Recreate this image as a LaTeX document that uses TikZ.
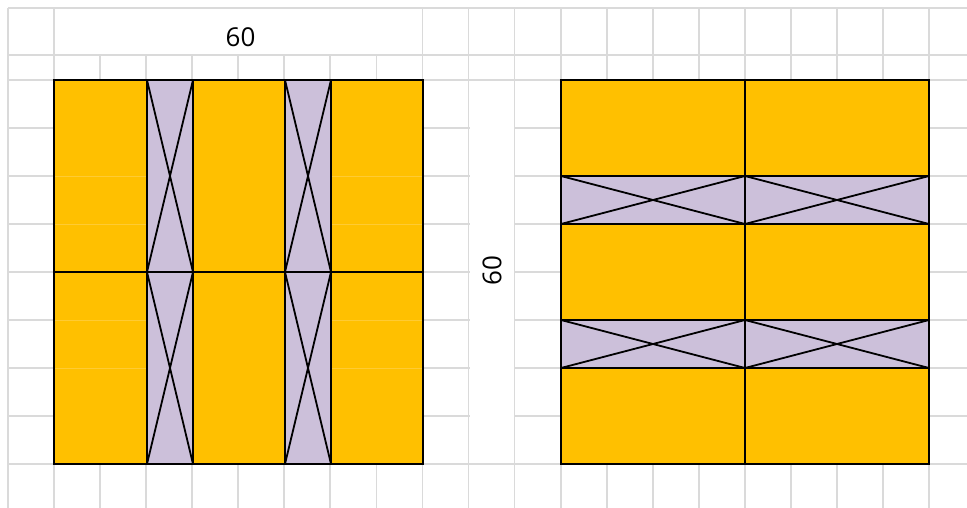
\documentclass[tikz,border=0pt]{standalone}
\usepackage{fontspec}
\setmainfont{Open Sans}
\definecolor{gridgray}{HTML}{DADADA}
\definecolor{orng}{HTML}{FFC000}
\definecolor{lilac}{HTML}{CCC0DA}
\definecolor{faint}{HTML}{FFCB33}
\begin{document}
\begin{tikzpicture}[x=1pt,y=-1pt,
  gridline/.style={draw=gridgray,line width=1.8pt},
  orangecell/.style={fill=orng,draw=black,line width=2.2pt},
  lilaccell/.style={fill=lilac,draw=black,line width=2.2pt},
  cross/.style={draw=black,line width=1.8pt},
  faintline/.style={draw=faint,line width=0.8pt},
  lbl/.style={font=\fontsize{26}{28}\selectfont,inner sep=0pt}]
\useasboundingbox (0,0) rectangle (967,508);
\fill[white] (0,0) rectangle (967,508);
% grid
\foreach \k in {0,...,20} {
  \pgfmathsetmacro{\xx}{8+46.05*\k}
  \draw[gridline] (\xx,8) -- (\xx,508);
}
\foreach \yy in {8,55,80,128,176,224,272,320,368,416,464} {
  \draw[gridline] (8,\yy) -- (967,\yy);
}
% merged cells
\fill[white] (55,9) rectangle (422,54);
\fill[white] (470,81) rectangle (514,463);
\node[lbl] (toplabel) at (240.5,37.5) {60};
\node[lbl,rotate=90] (sidelabel) at (492,270.5) {60};
% ---------- left figure ----------
\foreach \ya/\yb in {80/272,272/464} {
  \draw[orangecell] (54,\ya) rectangle (147,\yb);
  \draw[lilaccell] (147,\ya) rectangle (193,\yb);
  \draw[orangecell] (193,\ya) rectangle (285,\yb);
  \draw[lilaccell] (285,\ya) rectangle (331,\yb);
  \draw[orangecell] (331,\ya) rectangle (423,\yb);
  \draw[cross] (147,\ya) -- (193,\yb) (193,\ya) -- (147,\yb);
  \draw[cross] (285,\ya) -- (331,\yb) (331,\ya) -- (285,\yb);
}
\foreach \yy in {176,224,320,368} {
  \draw[faintline] (55.2,\yy) -- (145.8,\yy);
  \draw[faintline] (332.2,\yy) -- (421.8,\yy);
}
% ---------- right figure ----------
\foreach \xa/\xb in {561/745,745/929} {
  \draw[orangecell] (\xa,80) rectangle (\xb,176);
  \draw[lilaccell] (\xa,176) rectangle (\xb,224);
  \draw[orangecell] (\xa,224) rectangle (\xb,320);
  \draw[lilaccell] (\xa,320) rectangle (\xb,368);
  \draw[orangecell] (\xa,368) rectangle (\xb,464);
  \draw[cross] (\xa,176) -- (\xb,224) (\xb,176) -- (\xa,224);
  \draw[cross] (\xa,320) -- (\xb,368) (\xb,320) -- (\xa,368);
}
\end{tikzpicture}
\end{document}
